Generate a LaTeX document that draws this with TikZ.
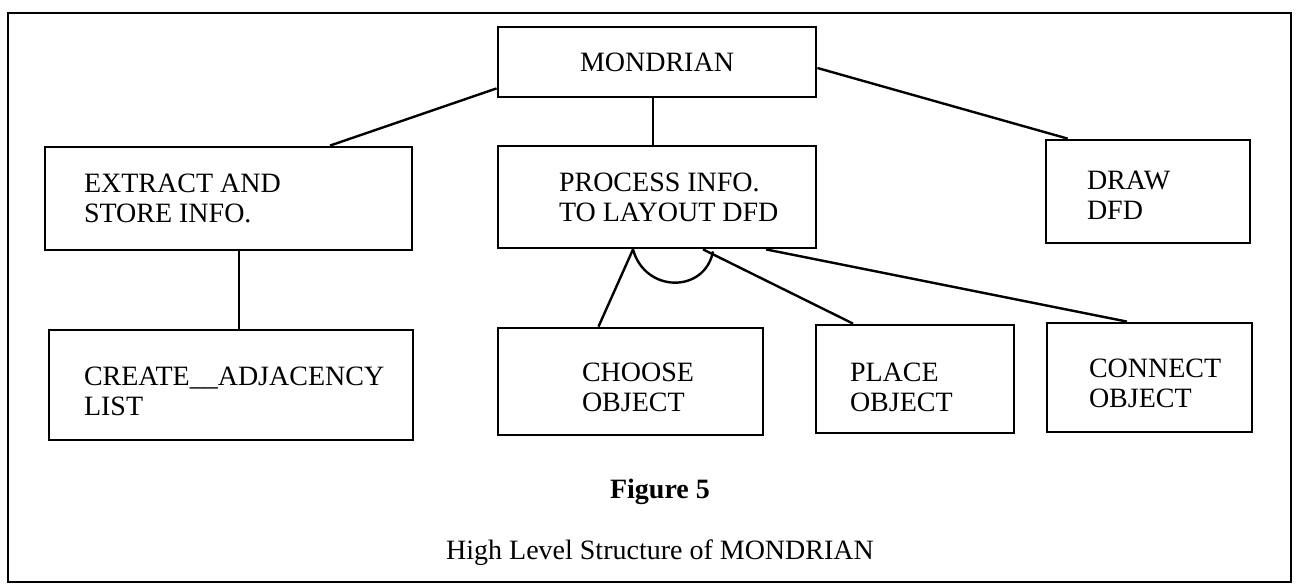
\documentclass[tikz,border=0pt]{standalone}
\usepackage{fontspec}
\setmainfont{Liberation Serif}
\usetikzlibrary{calc}
\begin{document}
\begin{tikzpicture}[x=0.5pt,y=-0.5pt,
  txt/.style={font=\fontsize{14}{15}\selectfont},
  bx/.style={draw, line width=1.4pt, inner sep=0pt, txt},
  lbl/.style={anchor=west, align=left, inner sep=0pt, txt},
  conn/.style={line width=1.2pt}]
\useasboundingbox (0,0) rectangle (1301,587);
\draw[line width=1.4pt] (8,13) rectangle (1291,582);

\node[bx, minimum width=159pt, minimum height=35pt] (M) at (657,62) {MONDRIAN};
\node[bx, minimum width=183.5pt, minimum height=51.5pt,
  label={[lbl, xshift=20pt]west:{EXTRACT AND\\STORE INFO.}}] (E) at (228.5,198.5) {};
\node[bx, minimum width=159pt, minimum height=51pt,
  label={[lbl, xshift=31pt]west:{PROCESS INFO.\\TO LAYOUT DFD}}] (P) at (657,197) {};
\node[bx, minimum width=102pt, minimum height=51.5pt,
  label={[lbl, xshift=21pt, yshift=-2pt]west:{DRAW\\DFD}}] (D) at (1148,191.5) {};
\node[bx, minimum width=182pt, minimum height=55pt,
  label={[lbl, xshift=18pt, yshift=-3pt]west:{CREATE\_\_ADJACENCY\\LIST}}] (C) at (231,385) {};
\node[bx, minimum width=132.5pt, minimum height=53.5pt,
  label={[lbl, xshift=42.5pt, yshift=-3pt]west:{CHOOSE\\OBJECT}}] (CH) at (630.5,381.5) {};
\node[bx, minimum width=99pt, minimum height=54pt,
  label={[lbl, xshift=17.5pt, yshift=-4pt]west:{PLACE\\OBJECT}}] (PL) at (915,379) {};
\node[bx, minimum width=102.5pt, minimum height=54.5pt,
  label={[lbl, xshift=21.5pt, yshift=-3pt]west:{CONNECT\\OBJECT}}] (CO) at (1149.5,377.5) {};

\draw[conn] ($(M.south west)+(0,-10)$) -- ($(E.north)+(101.5,0)$);
\draw[conn] ($(M.south)+(-4,0)$) -- ($(P.north)+(-4,0)$);
\draw[conn] ($(M.east)+(0,6)$) -- ($(D.north west)+(23,0)$);
\draw[conn] ($(E.south)+(10.5,0)$) -- ($(C.north)+(8,0)$);
\draw[conn] ($(P.south)+(-24,0)$) -- ($(CH.north)+(-32,0)$);
\draw[conn] ($(P.south)+(46,0)$) -- ($(PL.north)+(-62,0)$);
\draw[conn] ($(P.south)+(109,0)$) -- ($(CO.north)+(-22.5,0)$);
\draw[conn] ($(P.south)+(-24,0)$) .. controls ($(P.south)+(-12,44)$) and ($(P.south)+(48,44)$) .. ($(P.south)+(56,2)$);

\node[txt, font=\fontsize{14}{15}\selectfont\bfseries] (fig) at (660,492) {Figure 5};
\node[txt] (cap) at (660,553) {High Level Structure of MONDRIAN};
\end{tikzpicture}
\end{document}
